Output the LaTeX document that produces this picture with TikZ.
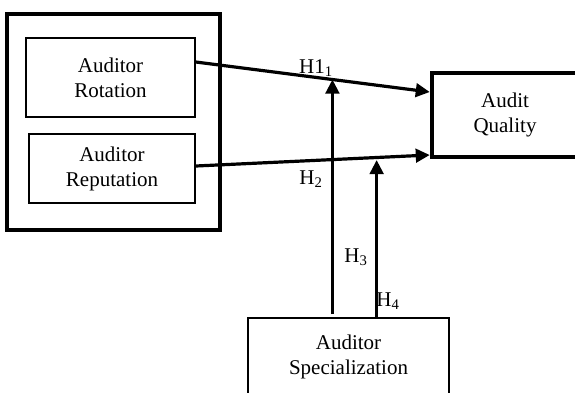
\documentclass[tikz,border=0pt]{standalone}
\usepackage{fontspec}
\setmainfont{Liberation Serif}
\usetikzlibrary{arrows.meta}

\begin{document}
\begin{tikzpicture}[x=1pt,y=-1pt,
  box/.style={draw,line width=1.6pt,align=center,inner sep=0pt,font=\fontsize{21}{25}\selectfont},
  bigbox/.style={box,line width=4.5pt},
  arr/.style={line width=3.2pt,-{Triangle[length=14pt,width=13.5pt]}},
  lab/.style={inner sep=0pt,font=\fontsize{21}{25}\selectfont}]
\useasboundingbox (0,0) rectangle (575,392);
\clip (0,0) rectangle (575,392);
\node[bigbox,minimum width=213pt,minimum height=216pt] (grp) at (113.5,122) {}; % Group
\node[box,minimum width=169pt,minimum height=79pt] (rot) at (110.5,77.5) {Auditor\\Rotation};
\node[box,minimum width=166pt,minimum height=69pt] (rep) at (112,168.5) {Auditor\\Reputation};
\node[bigbox,minimum width=146pt,minimum height=84pt] (qual) at (505,115) {Audit\\Quality};
\node[box,minimum width=201pt,minimum height=78pt] (spec) at (348.5,357) {Auditor\\Specialization};
\draw[arr] ([yshift=15.5pt]rot.east) -- ([yshift=23pt]qual.west)
  coordinate[pos=.584] (m1); % H1
\draw[arr] ([yshift=2.5pt]rep.east) -- ([yshift=-40pt]qual.west)
  coordinate[pos=.773] (m2); % H2
\draw[arr,shorten <=3pt] (spec.north -| m1) -- (m1); % H3
\draw[arr] (spec.north -| m2) -- ([yshift=-2.5pt]m2); % H4
%% Labels
\node[lab] (h1) at (316,68) {H1\textsubscript{1}};
\node[lab] (h2) at (311,179) {H\textsubscript{2}};
\node[lab] (h3) at (356,257) {H\textsubscript{3}};
\node[lab] (h4) at (388,301) {H\textsubscript{4}};
\end{tikzpicture}
\end{document}
